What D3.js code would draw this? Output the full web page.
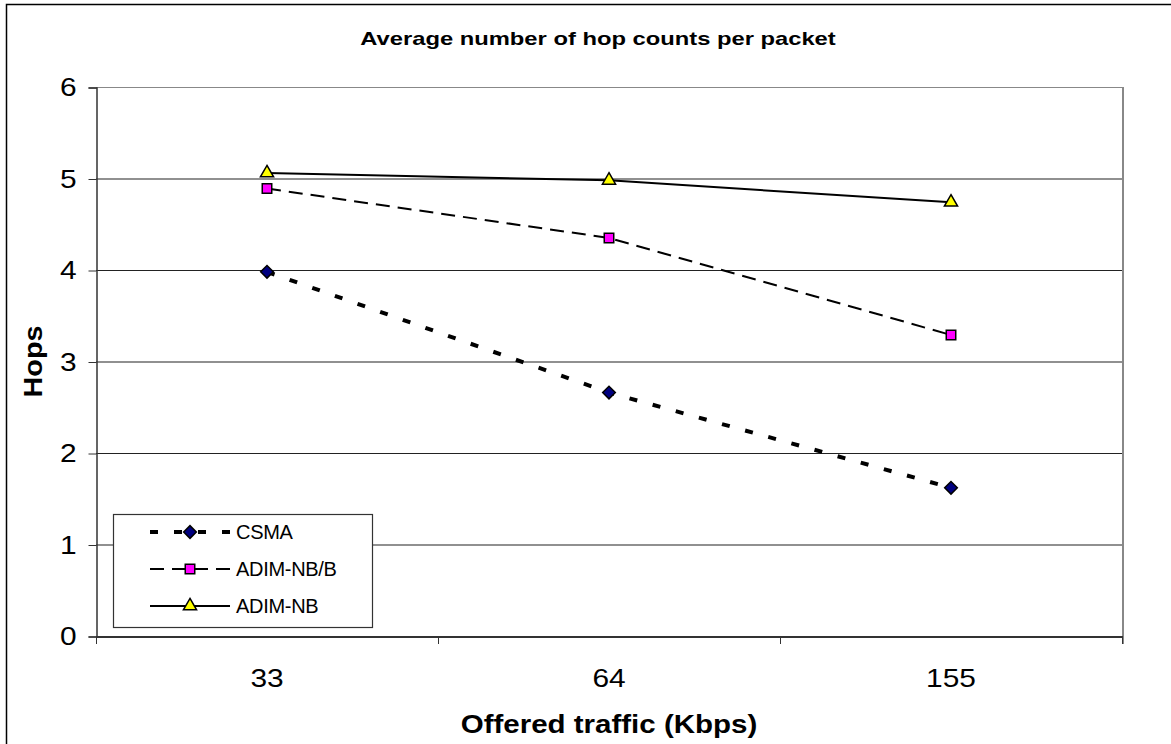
<!DOCTYPE html>
<html>
<head>
<meta charset="utf-8">
<script src="https://cdn.jsdelivr.net/npm/d3@7"></script>
<style>
body { margin: 0; background: #fff; }
text { font-family: Arial, "Liberation Sans", sans-serif; }
</style>
</head>
<body>
<script>
var width = 1171;
var height = 744;

// chart data
var categories = ["33", "64", "155"];
var seriesNames = ["CSMA", "ADIM-NB/B", "ADIM-NB"];
var csma = [3.98, 2.66, 1.62];
var adimNBB = [4.89, 4.35, 3.29];
var adimNB = [5.06, 4.98, 4.74];
var yTicks = [0, 1, 2, 3, 4, 5, 6];

// the original chart text is stretched sideways
var sx = 1.15;

var series = [
    { name: seriesNames[0], values: csma, dash: "8,16", sw: 4, shape: d3.symbolSquare, rot: 45, fill: "#000080", size: 80 },
    { name: seriesNames[1], values: adimNBB, dash: "14,8", sw: 2, shape: d3.symbolSquare, rot: 0, fill: "#ff00ff", size: 90 },
    { name: seriesNames[2], values: adimNB, dash: null, sw: 2, shape: d3.symbolTriangle, rot: 0, fill: "#ffff00", size: 75 }
];

var plot = { left: 96, right: 1122, top: 87, bottom: 636 };

var svg = d3.select("body")
    .append("svg")
    .attr("width", width)
    .attr("height", height);

// outer chart border
svg.append("rect")
    .attr("x", 6.5).attr("y", 4.5)
    .attr("width", width + 10).attr("height", height + 10)
    .attr("fill", "none")
    .attr("stroke", "#000")
    .attr("stroke-width", 1.5);

var x = d3.scaleBand()
    .domain(categories)
    .range([plot.left, plot.right]);

var y = d3.scaleLinear()
    .domain([0, 6])
    .range([plot.bottom, plot.top]);

// gridlines
svg.append("g")
    .selectAll("line")
    .data(yTicks.filter(function(d) { return d > 0; }))
    .enter()
    .append("line")
    .attr("x1", plot.left).attr("x2", plot.right)
    .attr("y1", function(d) { return y(d) + 0.5; })
    .attr("y2", function(d) { return y(d) + 0.5; })
    .attr("stroke", function(d) { return d == 6 ? "#888" : "#222"; })
    .attr("stroke-width", 1.2);

// right plot border
svg.append("line")
    .attr("x1", plot.right + 1).attr("x2", plot.right + 1)
    .attr("y1", plot.top).attr("y2", plot.bottom + 8)
    .attr("stroke", "#888")
    .attr("stroke-width", 2);

// y axis
var yAxis = svg.append("g")
    .attr("transform", "translate(" + (plot.left + 0.5) + ",0.5)")
    .call(d3.axisLeft(y).tickValues(yTicks).tickSize(8).tickPadding(12).tickFormat(d3.format("d")));
yAxis.select(".domain").attr("stroke", "#333").attr("stroke-width", 1.5);
yAxis.selectAll(".tick line").attr("stroke", "#333");
yAxis.selectAll("text")
    .attr("font-size", "26px").attr("fill", "#000")
    .attr("x", -20 / sx)
    .attr("transform", "scale(" + sx + ",1)")
    .style("font-family", "Arial, 'Liberation Sans', sans-serif");

// x axis
var xAxis = svg.append("g")
    .attr("transform", "translate(0," + (plot.bottom + 0.5) + ")")
    .call(d3.axisBottom(x).tickSize(0).tickPadding(32));
xAxis.select(".domain").attr("stroke", "#333").attr("stroke-width", 2);
xAxis.selectAll("text")
    .attr("font-size", "26px").attr("fill", "#000")
    .attr("transform", "scale(" + sx + ",1)")
    .style("font-family", "Arial, 'Liberation Sans', sans-serif");

// x boundary ticks
var bounds = categories.map(function(c) { return x(c); }).concat([plot.right]);
svg.append("g")
    .selectAll("line")
    .data(bounds)
    .enter()
    .append("line")
    .attr("x1", function(d) { return d + 0.5; })
    .attr("x2", function(d) { return d + 0.5; })
    .attr("y1", plot.bottom).attr("y2", plot.bottom + 8)
    .attr("stroke", "#333");

// series lines
var line = d3.line()
    .x(function(d, i) { return x(categories[i]) + x.bandwidth() / 2; })
    .y(function(d) { return y(d); });

svg.append("g")
    .selectAll("path")
    .data(series)
    .enter()
    .append("path")
    .attr("d", function(d) { return line(d.values); })
    .attr("fill", "none")
    .attr("stroke", "#000")
    .attr("stroke-width", function(d) { return d.sw; })
    .attr("stroke-dasharray", function(d) { return d.dash; });

// markers
series.forEach(function(s) {
    svg.append("g")
        .selectAll("path")
        .data(s.values)
        .enter()
        .append("path")
        .attr("transform", function(d, i) {
            return "translate(" + (x(categories[i]) + x.bandwidth() / 2) + "," + y(d) + ") rotate(" + s.rot + ")";
        })
        .attr("d", d3.symbol().type(s.shape).size(s.size))
        .attr("fill", s.fill)
        .attr("stroke", "#000")
        .attr("stroke-width", 1.5);
});

// legend
var legend = svg.append("g");
legend.append("rect")
    .attr("x", 113.5).attr("y", 514.5)
    .attr("width", 259).attr("height", 113)
    .attr("fill", "#fff")
    .attr("stroke", "#333")
    .attr("stroke-width", 1.2);

var items = legend.selectAll("g.item")
    .data(series)
    .enter()
    .append("g")
    .attr("class", "item")
    .attr("transform", function(d, i) { return "translate(0," + (532 + i * 37) + ")"; });

items.append("line")
    .attr("x1", 150)
    .attr("x2", 230)
    .attr("y1", 0).attr("y2", 0)
    .attr("stroke", "#000")
    .attr("stroke-width", function(d) { return d.sw; })
    .attr("stroke-dasharray", function(d) { return d.dash; });

items.append("path")
    .attr("transform", function(d) { return "translate(190,0) rotate(" + d.rot + ")"; })
    .attr("d", function(d) { return d3.symbol().type(d.shape).size(d.size)(); })
    .attr("fill", function(d) { return d.fill; })
    .attr("stroke", "#000")
    .attr("stroke-width", 1.5);

items.append("text")
    .attr("x", 236).attr("y", 0)
    .attr("dy", "0.36em")
    .attr("font-size", "20px")
    .attr("letter-spacing", "-0.3px")
    .text(function(d) { return d.name; });

// title and axis labels
svg.append("text")
    .attr("transform", "translate(598,45) scale(1.25,1)")
    .attr("text-anchor", "middle")
    .attr("font-size", "19px")
    .attr("font-weight", "bold")
    .text("Average number of hop counts per packet");

svg.append("text")
    .attr("transform", "translate(42," + ((plot.top + plot.bottom) / 2) + ") rotate(-90) scale(" + sx + ",1)")
    .attr("text-anchor", "middle")
    .attr("font-size", "25px")
    .attr("font-weight", "bold")
    .text("Hops");

svg.append("text")
    .attr("transform", "translate(" + ((plot.left + plot.right) / 2) + ",733) scale(1.18,1)")
    .attr("text-anchor", "middle")
    .attr("font-size", "25px")
    .attr("font-weight", "bold")
    .text("Offered traffic (Kbps)");
</script>
</body>
</html>
